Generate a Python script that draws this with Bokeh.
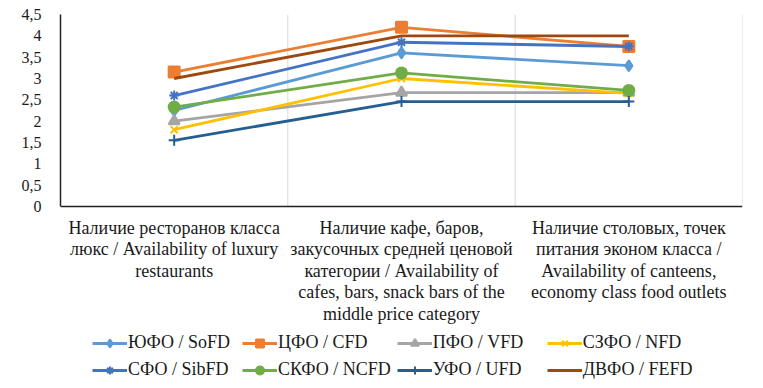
from bokeh.plotting import figure
from bokeh.models import Legend, LegendItem, FixedTicker, Range1d
from bokeh.core.properties import value
from bokeh.embed import file_html
from bokeh.resources import INLINE

categories = [
    "Наличие ресторанов класса\nлюкс / Availability of luxury\nrestaurants",
    "Наличие кафе, баров,\nзакусочных средней ценовой\nкатегории / Availability of\ncafes, bars, snack bars of the\nmiddle price category",
    "Наличие столовых, точек\nпитания эконом класса /\nAvailability of canteens,\neconomy class food outlets",
]
series_names = ["ЮФО / SoFD", "ЦФО / CFD", "ПФО / VFD", "СЗФО / NFD",
                "СФО / SibFD", "СКФО / NCFD", "УФО / UFD", "ДВФО / FEFD"]
sofd = [2.25, 3.6, 3.3]
cfd = [3.15, 4.2, 3.75]
vfd = [2.0, 2.67, 2.67]
nfd = [1.8, 3.0, 2.65]
sibfd = [2.6, 3.85, 3.75]
ncfd = [2.33, 3.13, 2.72]
ufd = [1.55, 2.46, 2.46]
fefd = [3.0, 4.0, 4.0]
y_ticks = [0, 0.5, 1, 1.5, 2, 2.5, 3, 3.5, 4, 4.5]
y_tick_labels = ["0", "0,5", "1", "1,5", "2", "2,5", "3", "3,5", "4", "4,5"]

values = [sofd, cfd, vfd, nfd, sibfd, ncfd, ufd, fefd]
colors = ["#5B9BD5", "#ED7D31", "#A5A5A5", "#FFC000",
          "#4472C4", "#70AD47", "#255E91", "#9E480E"]
markers = ["diamond", "square", "triangle", "x",
           "asterisk", "circle", "cross", None]
msizes = [11, 11, 11, 10, 10, 11, 11, 0]

FONT = "Liberation Serif"

n = len(categories)
xpos = [i + 0.5 for i in range(n)]
ymax = y_ticks[-1]
px_per_unit = 192 / ymax
frame_h = 366
y_start = -(frame_h - 192) / px_per_unit

p = figure(frame_width=682, frame_height=frame_h, output_backend="svg",
           toolbar_location=None,
           x_range=Range1d(0, n), y_range=Range1d(y_start, ymax),
           min_border_left=60, min_border_right=18, min_border_top=14,
           min_border_bottom=4)
p.outline_line_color = None
p.background_fill_color = "white"
p.xgrid.grid_line_color = None
p.ygrid.grid_line_color = None

# vertical separators between categories (from 0 to axis max)
bounds = [i + 1 for i in range(n)]
p.segment(x0=bounds, y0=[0] * n, x1=bounds, y1=[ymax] * n,
          line_color="#D9D9D9", line_width=1)

items = []
for name, vals, c, m, s in zip(series_names, values, colors, markers, msizes):
    rs = [p.line(xpos, vals, line_color=c, line_width=2.8)]
    if m is not None:
        rs.append(p.scatter(xpos, vals, marker=m, size=s, fill_color=c,
                            line_color=c, line_width=2))
    items.append(LegendItem(label=name, renderers=rs))

# category labels under the axis
p.text(x=xpos, y=[0] * n, text=categories, y_offset=11,
       text_align="center", text_baseline="top",
       text_font=value(FONT), text_font_size="18px",
       text_color="#1a1a1a", text_line_height=1.08)

# y axis
p.yaxis.ticker = FixedTicker(ticks=y_ticks)
p.yaxis.bounds = (0, ymax)
p.yaxis.major_label_overrides = {t: l for t, l in zip(y_ticks, y_tick_labels)}
p.yaxis.major_label_text_font = FONT
p.yaxis.major_label_text_font_size = "16px"
p.yaxis.major_label_text_color = "#1a1a1a"
p.yaxis.major_tick_line_color = None
p.yaxis.minor_tick_line_color = None
p.yaxis.axis_line_color = "#222222"
p.yaxis.axis_line_width = 1.5
p.yaxis.major_label_standoff = 13

# x axis line at zero
p.xaxis.fixed_location = 0
p.xaxis.ticker = FixedTicker(ticks=[])
p.xaxis.major_label_text_font_size = "0px"
p.xaxis.major_tick_line_color = None
p.xaxis.minor_tick_line_color = None
p.xaxis.major_label_standoff = 0
p.xaxis.axis_line_color = "#222222"
p.xaxis.axis_line_width = 1.5

# legend: 2 rows x 4 columns, filled row by row (grid fills column-wise)
order = [0, 4, 1, 5, 2, 6, 3, 7]
legend = Legend(items=[items[i] for i in order], ncols=4, location=(32, 0),
                label_text_font=FONT, label_text_font_size="18px",
                label_text_color="#1a1a1a",
                glyph_width=35, glyph_height=20, label_standoff=1,
                label_width=108, spacing=6, padding=0, margin=0,
                border_line_color=None, background_fill_alpha=0)
p.add_layout(legend, "center")

open("out.html", "w").write(file_html(p, INLINE))
